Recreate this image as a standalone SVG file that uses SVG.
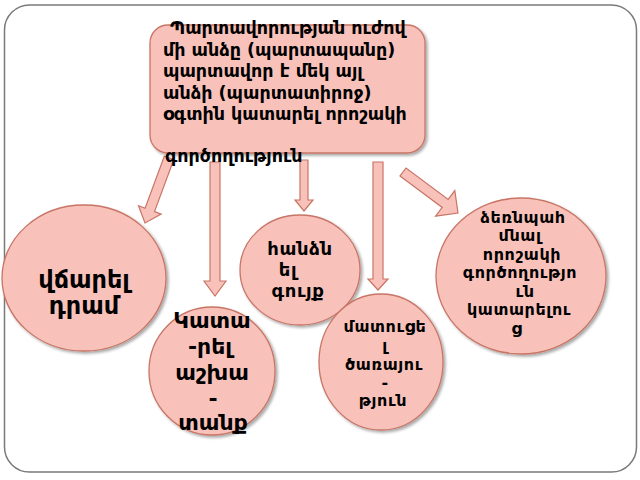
<svg xmlns="http://www.w3.org/2000/svg" width="640" height="480" viewBox="0 0 640 480">
<style>
.frame{fill:#ffffff;stroke:#7a7a7a;stroke-width:1.5}
.node{fill:#f8c2bb;stroke:#c87566;stroke-width:1.3}
.arrow{fill:#f8c2bb;stroke:#c87566;stroke-width:1.2;stroke-linejoin:miter}
text{font-family:"DejaVu Sans","Noto Sans",sans-serif;font-weight:bold;fill:#000}
.tt{font-size:17.5px}
.s16{font-size:16px;letter-spacing:0.6px;text-anchor:middle}
.s18{font-size:18px;letter-spacing:0.6px;text-anchor:middle}
.big{font-size:24px;text-anchor:middle}
.mid{font-size:22px;text-anchor:middle}
</style>
<defs>
<filter id="sh" x="-10%" y="-10%" width="130%" height="130%">
<feGaussianBlur in="SourceAlpha" stdDeviation="1.5"/>
<feOffset dx="1.5" dy="2" result="b"/>
<feComponentTransfer><feFuncA type="linear" slope="0.35"/></feComponentTransfer>
<feMerge><feMergeNode/><feMergeNode in="SourceGraphic"/></feMerge>
</filter>
</defs>
<rect class="frame" x="4.5" y="5" width="632" height="467" rx="25"/>
<g id="connectors">
<polygon class="arrow" points="173.7,159.7 154.5,211.6 161.1,214.1 145,223 138.5,205.7 145.1,208.2 164.3,156.3"/>
<polygon class="arrow" points="210,162 210,281 204,281 215,296 226,281 220,281 220,162"/>
<polygon class="arrow" points="300,160 300,200 295,200 304,211 313,200 308,200 308,160"/>
<polygon class="arrow" points="373,162 373,279 368,279 378,290 388,279 383,279 383,162"/>
<polygon class="arrow" points="400,176 442.2,207.4 435.6,216.2 458,213 454.8,190.6 448.2,199.4 406,168"/>
</g>
<g id="top">
<rect class="node" x="150" y="25" width="275" height="128" rx="18" filter="url(#sh)"/>
<text class="tt" x="170" y="34">Պարտավորության ուժով</text>
<text class="tt" x="163" y="55.5">մի անձը (պարտապանը)</text>
<text class="tt" x="163" y="77">պարտավոր է մեկ այլ</text>
<text class="tt" x="163" y="98.5">անձի (պարտատիրոջ)</text>
<text class="tt" x="163" y="120">օգտին կատարել որոշակի</text>
<text class="tt" x="165" y="162">գործողություն</text>
</g>
<g id="n-vcharel">
<ellipse class="node" cx="84" cy="278" rx="82" ry="73" filter="url(#sh)"/>
<text class="big" x="84" y="288">վճարել</text>
<text class="big" x="84" y="314">դրամ</text>
</g>
<g id="n-handznel">
<ellipse class="node" cx="300" cy="270" rx="60" ry="55" filter="url(#sh)"/>
<text class="s18" x="300" y="255">հանձն</text>
<text class="s18" x="288" y="276">ել</text>
<text class="s18" x="298" y="297">գույք</text>
</g>
<g id="n-dzernpah">
<ellipse class="node" cx="521" cy="276" rx="85" ry="78" filter="url(#sh)"/>
<text class="s16" x="523" y="222.5">ձեռնպահ</text>
<text class="s16" x="520" y="241">մնալ</text>
<text class="s16" x="522" y="259.5">որոշակի</text>
<text class="s16" x="520" y="278">գործողությո</text>
<text class="s16" x="525" y="296.5">ւն</text>
<text class="s16" x="519" y="315">կատարելու</text>
<text class="s16" x="517" y="333.5">ց</text>
</g>
<g id="n-katarel">
<ellipse class="node" cx="212" cy="371" rx="63" ry="64" filter="url(#sh)"/>
<text class="mid" x="212" y="328">Կատա</text>
<text class="mid" x="210" y="354">-րել</text>
<text class="mid" x="212" y="380">աշխա</text>
<text class="mid" x="213" y="406">-</text>
<text class="mid" x="213" y="430">տանք</text>
</g>
<g id="n-matucel">
<ellipse class="node" cx="381" cy="362" rx="62" ry="68" filter="url(#sh)"/>
<text class="s16" x="385" y="332">մատուցե</text>
<text class="s16" x="385" y="351">լ</text>
<text class="s16" x="384" y="370">ծառայու</text>
<text class="s16" x="385" y="388">-</text>
<text class="s16" x="383" y="406">թյուն</text>
</g>
</svg>
